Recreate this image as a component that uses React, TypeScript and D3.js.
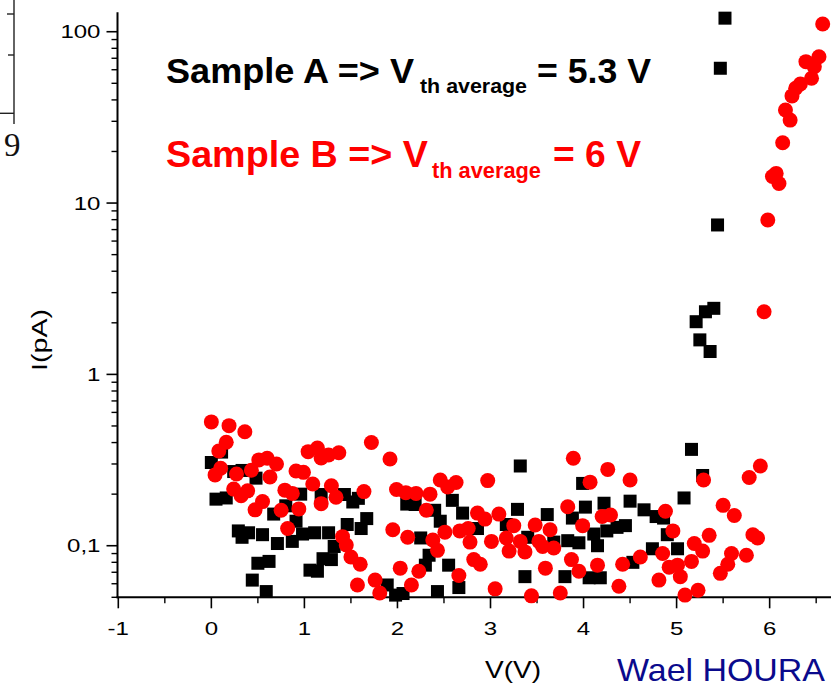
import React from "react";
import * as d3 from "d3";

const W = 831;
const H = 688;

// Sample A (black squares)
const sampleAV = [
  0.0, 0.11, 0.05, 0.16, 0.24, 0.33, 0.48, 0.29, 0.33, 0.4, 0.55, 0.71, 0.87, 0.67, 0.8, 0.91, 0.96, 0.98,
  1.11, 1.18, 0.5, 0.62, 0.44, 0.59, 1.06, 1.14, 1.2, 1.26, 1.32, 1.29, 1.43, 1.52, 1.58, 1.46, 1.61, 1.67,
  1.89, 1.98, 2.06, 2.1, 2.19, 2.25, 2.34, 2.3, 2.4, 2.46, 2.43, 2.55, 2.59, 2.7, 2.66, 2.86, 3.32, 3.29,
  3.17, 3.4, 3.37, 3.61, 3.68, 3.83, 3.88, 3.8, 3.95, 3.99, 4.02, 4.22, 4.11, 4.15, 4.25, 4.36, 4.45, 4.06,
  4.18, 4.5, 4.65, 4.78, 4.86, 4.74, 5.01, 4.53, 5.08, 5.16, 5.28, 4.9, 5.21, 5.25, 5.31, 5.4, 5.36, 5.44,
  5.47, 5.52,
];
const sampleAI = [
  0.306, 0.352, 0.187, 0.19, 0.271, 0.275, 0.248, 0.122, 0.112, 0.119, 0.116, 0.103, 0.106, 0.153, 0.171,
  0.139, 0.2, 0.117, 0.119, 0.199, 0.079, 0.081, 0.063, 0.054, 0.072, 0.071, 0.084, 0.119, 0.099, 0.083,
  0.199, 0.18, 0.189, 0.133, 0.126, 0.144, 0.059, 0.0515, 0.0526, 0.175, 0.174, 0.111, 0.088, 0.077, 0.161,
  0.139, 0.054, 0.077, 0.184, 0.155, 0.057, 0.126, 0.292, 0.163, 0.133, 0.112, 0.066, 0.152, 0.105, 0.107,
  0.145, 0.066, 0.104, 0.231, 0.168, 0.177, 0.117, 0.1, 0.122, 0.128, 0.131, 0.065, 0.065, 0.182, 0.162,
  0.148, 0.145, 0.096, 0.096, 0.08, 0.19, 0.365, 0.257, 0.116, 2.03, 1.59, 2.32, 2.43, 1.36, 7.45, 61.2, 120,
];

// Sample B (red circles)
const sampleBV = [
  0.0, 0.19, 0.36, 0.16, 0.08, 0.1, 0.04, 0.27, 0.43, 0.51, 0.6, 0.7, 0.63, 0.24, 0.32, 0.39, 0.55, 0.47,
  0.75, 0.79, 0.87, 0.91, 0.99, 1.09, 0.94, 0.82, 1.04, 1.14, 1.18, 1.26, 1.37, 1.18, 1.29, 1.34, 1.72, 1.92,
  1.64, 1.41, 1.45, 1.5, 1.6, 1.57, 1.76, 1.81, 1.99, 2.09, 2.2, 2.35, 2.31, 2.46, 2.54, 1.95, 2.11, 2.03,
  2.23, 2.15, 2.38, 2.43, 2.51, 2.63, 2.97, 3.89, 3.83, 2.86, 2.94, 3.09, 3.25, 3.48, 3.64, 2.67, 2.76, 2.78,
  3.01, 3.17, 3.32, 3.2, 3.37, 3.52, 3.56, 3.68, 2.82, 2.89, 2.66, 3.59, 3.87, 3.05, 3.44, 3.75, 4.26, 4.5,
  4.07, 3.99, 4.2, 4.29, 4.88, 4.96, 5.19, 3.95, 4.15, 4.42, 4.61, 4.85, 4.92, 5.01, 5.04, 5.16, 4.81, 4.38,
  5.09, 5.23, 5.29, 5.9, 5.78, 5.5, 5.62, 5.35, 5.82, 5.87, 5.28, 5.59, 5.75, 5.55, 5.47, 5.94, 5.98, 6.03,
  6.07, 6.1, 6.14, 6.17, 6.22, 6.24, 6.28, 6.33, 6.45, 6.39, 6.48, 6.53, 6.57,
];
const sampleBI = [
  0.528, 0.502, 0.463, 0.402, 0.357, 0.283, 0.259, 0.262, 0.276, 0.317, 0.324, 0.3, 0.252, 0.214, 0.196,
  0.209, 0.181, 0.162, 0.161, 0.211, 0.202, 0.273, 0.268, 0.229, 0.164, 0.126, 0.354, 0.372, 0.325, 0.339,
  0.349, 0.176, 0.224, 0.192, 0.4, 0.321, 0.207, 0.113, 0.101, 0.086, 0.078, 0.059, 0.063, 0.053, 0.213,
  0.204, 0.202, 0.2, 0.161, 0.242, 0.22, 0.124, 0.112, 0.074, 0.071, 0.059, 0.108, 0.094, 0.12, 0.234, 0.24,
  0.324, 0.169, 0.155, 0.143, 0.153, 0.131, 0.132, 0.124, 0.122, 0.126, 0.105, 0.106, 0.111, 0.106, 0.093,
  0.092, 0.106, 0.099, 0.097, 0.083, 0.078, 0.067, 0.074, 0.083, 0.056, 0.051, 0.053, 0.279, 0.242, 0.235,
  0.131, 0.148, 0.151, 0.159, 0.122, 0.103, 0.071, 0.077, 0.078, 0.086, 0.09, 0.075, 0.077, 0.066, 0.081,
  0.063, 0.058, 0.0515, 0.055, 0.242, 0.292, 0.25, 0.172, 0.15, 0.115, 0.116, 0.111, 0.093, 0.09, 0.088,
  0.078, 0.069, 2.32, 7.96, 14.3, 14.9, 13.0, 22.5, 34.9, 30.5, 42.2, 46.8, 49.5, 53.5, 66.9, 62.5, 71.5, 111,
];

const xTickValues = [-1, 0, 1, 2, 3, 4, 5, 6, 7];
const xMinorValues = [-0.5, 0.5, 1.5, 2.5, 3.5, 4.5, 5.5, 6.5];
const yTickValues = [0.1, 1, 10, 100];
const yTickLabels = ["0,1", "1", "10", "100"];

const FONT = "'Liberation Sans', Arial, Helvetica, sans-serif";

export default function App() {
  const x = d3.scaleLinear().domain([-1, 7]).range([118.3, 862.7]);
  const y = d3.scaleLog().domain([0.05, 130]).range([597.3, 12.2]);

  const yMinor: number[] = [];
  [0.01, 0.1, 1, 10].forEach((dec) => {
    for (let k = 2; k <= 9; k++) {
      const v = k * dec;
      if (v >= 0.05 && v <= 130) yMinor.push(v);
    }
  });

  const axisY = 597.3;
  const axisX = 117.5;
  const sq = 13;
  const fit = "spacingAndGlyphs";

  return (
    <svg
      width={W}
      height={H}
      viewBox={`0 0 ${W} ${H}`}
      style={{ position: "absolute", left: 0, top: 0, background: "#fff", display: "block" }}
      fontFamily={FONT}
    >
      <rect x={0} y={0} width={W} height={H} fill="#fff" />

      {/* fragment of neighbouring figure (top-left) */}
      <g stroke="#222" strokeWidth={1.4}>
        <line x1={14} y1={0} x2={14} y2={124} />
        <line x1={7} y1={14} x2={14} y2={14} />
        <line x1={8} y1={55} x2={14} y2={55} />
        <line x1={0} y1={113.3} x2={14} y2={113.3} />
      </g>
      <text x={4} y={156} fontFamily="'Liberation Serif', 'DejaVu Serif', serif" fontSize={33} fill="#111">
        9
      </text>

      {/* axes */}
      <line x1={axisX} y1={y(130)} x2={axisX} y2={axisY + 1} stroke="#000" strokeWidth={2} />
      <line x1={axisX - 1} y1={axisY} x2={W} y2={axisY} stroke="#000" strokeWidth={2} />

      {/* y ticks */}
      {yTickValues.map((v) => (
        <line key={"ym" + v} x1={axisX - 11} x2={axisX} y1={y(v)} y2={y(v)} stroke="#000" strokeWidth={1.6} />
      ))}
      {yMinor.map((v) => (
        <line key={"yn" + v} x1={axisX - 6} x2={axisX} y1={y(v)} y2={y(v)} stroke="#000" strokeWidth={1.4} />
      ))}
      {yTickValues.map((v, i) => (
        <text
          key={"yl" + v}
          transform={`translate(100.5,${y(v)}) scale(1.3,1)`}
          textAnchor="end"
          dy="0.36em"
          fontSize={18.5}
          fill="#000"
        >
          {yTickLabels[i]}
        </text>
      ))}

      {/* x ticks */}
      {xTickValues.map((v) => (
        <line key={"xm" + v} x1={x(v)} x2={x(v)} y1={axisY} y2={axisY + 11} stroke="#000" strokeWidth={1.6} />
      ))}
      {xMinorValues.map((v) => (
        <line key={"xn" + v} x1={x(v)} x2={x(v)} y1={axisY} y2={axisY + 6} stroke="#000" strokeWidth={1.4} />
      ))}
      {xTickValues
        .filter((v) => x(v) < W - 5)
        .map((v) => (
          <text
            key={"xl" + v}
            transform={`translate(${x(v)},635) scale(1.3,1)`}
            textAnchor="middle"
            fontSize={18.5}
            fill="#000"
          >
            {String(v)}
          </text>
        ))}

      {/* axis titles */}
      <text transform="translate(513,678) scale(1.22,1)" textAnchor="middle" fontSize={23} fill="#000">
        V(V)
      </text>
      <text transform="translate(47,340) rotate(-90) scale(1.3,1)" textAnchor="middle" fontSize={22} fill="#000">
        I(pA)
      </text>

      {/* data: sample A squares */}
      <g fill="#000">
        {sampleAV.map((v, i) => (
          <rect key={"a" + i} x={x(v) - sq / 2} y={y(sampleAI[i]) - sq / 2} width={sq} height={sq} />
        ))}
      </g>
      {/* data: sample B circles */}
      <g fill="#ff0000">
        {sampleBV.map((v, i) => (
          <circle key={"b" + i} cx={x(v)} cy={y(sampleBI[i])} r={7.5} />
        ))}
      </g>

      {/* annotations */}
      <g fontWeight="bold" fill="#000">
        <text x={166} y={83} fontSize={35} textLength={248} lengthAdjust={fit}>
          Sample A =&gt; V
        </text>
        <text x={420} y={93} fontSize={21} textLength={107} lengthAdjust={fit}>
          th average
        </text>
        <text x={537} y={83} fontSize={35} textLength={114} lengthAdjust={fit}>
          = 5.3 V
        </text>
      </g>
      <g fontWeight="bold" fill="#ff0000">
        <text x={166} y={167} fontSize={37} textLength={262} lengthAdjust={fit}>
          Sample B =&gt; V
        </text>
        <text x={432} y={178} fontSize={21.5} textLength={109} lengthAdjust={fit}>
          th average
        </text>
        <text x={553} y={167} fontSize={37} textLength={88} lengthAdjust={fit}>
          = 6 V
        </text>
      </g>

      <text x={617} y={681} fontSize={32} fill="#0a0a8c" textLength={208} lengthAdjust={fit}>
        Wael HOURA
      </text>
    </svg>
  );
}
